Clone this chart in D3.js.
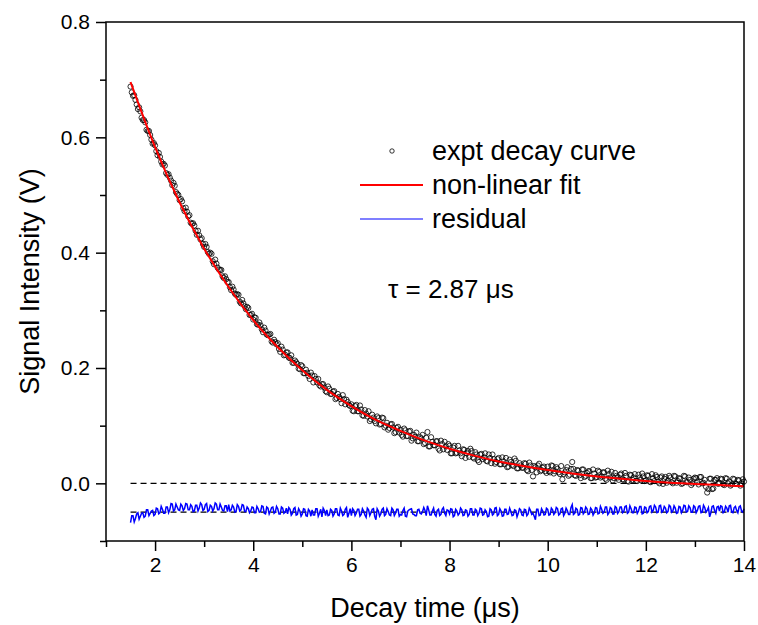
<!DOCTYPE html>
<html>
<head>
<meta charset="utf-8">
<script src="https://cdn.jsdelivr.net/npm/d3@7"></script>
<style>
  body { margin: 0; background: #fff; }
  text { font-family: "Liberation Sans", Arial, sans-serif; fill: #000; }
</style>
</head>
<body>
<div id="chart"></div>
<script>
// sampled decay, 0.05 us apart starting at 1.5 us
var decayStart = 1.5, decayStep = 0.05;
var decaySignal = [
  0.688, 0.672, 0.665, 0.649, 0.645, 0.630, 0.626, 0.611, 0.604, 0.589,
  0.586, 0.569, 0.566, 0.553, 0.551, 0.535, 0.530, 0.517, 0.516, 0.502,
  0.491, 0.489, 0.472, 0.471, 0.465, 0.450, 0.447, 0.431, 0.430, 0.425,
  0.410, 0.410, 0.398, 0.398, 0.380, 0.381, 0.371, 0.370, 0.356, 0.354,
  0.349, 0.335, 0.336, 0.327, 0.327, 0.312, 0.312, 0.302, 0.304, 0.292,
  0.284, 0.287, 0.275, 0.274, 0.262, 0.265, 0.257, 0.259, 0.244, 0.245,
  0.243, 0.228, 0.232, 0.223, 0.227, 0.217, 0.209, 0.213, 0.207, 0.198,
  0.203, 0.191, 0.192, 0.181, 0.187, 0.186, 0.175, 0.170, 0.172, 0.166,
  0.158, 0.164, 0.155, 0.160, 0.148, 0.150, 0.139, 0.146, 0.145, 0.136,
  0.137, 0.125, 0.136, 0.125, 0.128, 0.117, 0.121, 0.125, 0.111, 0.114,
  0.104, 0.113, 0.103, 0.113, 0.100, 0.093, 0.102, 0.097, 0.089, 0.098,
  0.093, 0.081, 0.092, 0.082, 0.091, 0.078, 0.081, 0.073, 0.080, 0.084,
  0.070, 0.089, 0.064, 0.072, 0.066, 0.073, 0.057, 0.068, 0.072, 0.058,
  0.065, 0.052, 0.065, 0.053, 0.057, 0.047, 0.058, 0.052, 0.046, 0.056,
  0.043, 0.050, 0.037, 0.051, 0.045, 0.039, 0.050, 0.035, 0.042, 0.037,
  0.044, 0.033, 0.038, 0.044, 0.029, 0.037, 0.030, 0.039, 0.026, 0.031,
  0.027, 0.034, 0.021, 0.031, 0.012, 0.028, 0.031, 0.021, 0.027, 0.021,
  0.029, 0.019, 0.030, 0.021, 0.025, 0.016, 0.007, 0.019, 0.028, 0.015,
  0.037, 0.014, 0.023, 0.014, 0.024, 0.011, 0.018, 0.021, 0.009, 0.017,
  0.011, 0.020, 0.012, 0.019, 0.006, 0.016, 0.020, 0.009, 0.013, 0.006,
  0.017, 0.006, 0.013, 0.003, 0.014, 0.010, 0.004, 0.015, 0.006, 0.012,
  0.005, 0.013, 0.002, 0.009, 0.014, 0.003, 0.010, -0.001, 0.011, 0.005,
  0.010, 0.000, 0.012, 0.004, 0.008, 0.000, 0.012, 0.002, 0.006, 0.000,
  0.010, 0.002, 0.011, 0.000, 0.006, -0.016, 0.008, -0.010, 0.006, 0.009,
  0.001, 0.007, -0.003, 0.008, 0.003, -0.002, 0.007, -0.001, 0.005, 0.000,
  0.003
];
// samples in between, half a step later (1.525 ... 13.975 us)
var midStart = 1.525;
var decayMid = [
  0.678, 0.673, 0.657, 0.652, 0.634, 0.630, 0.613, 0.611, 0.596, 0.590,
  0.576, 0.573, 0.558, 0.554, 0.538, 0.536, 0.525, 0.521, 0.505, 0.500,
  0.493, 0.477, 0.478, 0.463, 0.452, 0.451, 0.438, 0.438, 0.423, 0.415,
  0.415, 0.401, 0.400, 0.385, 0.388, 0.374, 0.370, 0.359, 0.359, 0.349,
  0.340, 0.341, 0.329, 0.328, 0.315, 0.318, 0.307, 0.306, 0.292, 0.294,
  0.288, 0.276, 0.279, 0.267, 0.270, 0.258, 0.258, 0.246, 0.249, 0.241,
  0.233, 0.237, 0.222, 0.227, 0.218, 0.222, 0.209, 0.210, 0.199, 0.205,
  0.191, 0.197, 0.186, 0.192, 0.175, 0.181, 0.181, 0.168, 0.172, 0.160,
  0.168, 0.155, 0.159, 0.146, 0.155, 0.146, 0.153, 0.137, 0.141, 0.134,
  0.126, 0.134, 0.125, 0.135, 0.118, 0.127, 0.116, 0.108, 0.119, 0.108,
  0.116, 0.102, 0.114, 0.097, 0.105, 0.096, 0.103, 0.087, 0.096, 0.088,
  0.084, 0.095, 0.082, 0.090, 0.074, 0.084, 0.088, 0.073, 0.078, 0.068,
  0.079, 0.064, 0.080, 0.066, 0.073, 0.060, 0.074, 0.059, 0.064, 0.068,
  0.052, 0.062, 0.052, 0.065, 0.052, 0.059, 0.044, 0.056, 0.060, 0.045,
  0.054, 0.040, 0.050, 0.042, 0.052, 0.038, 0.044, 0.050, 0.034, 0.042,
  0.033, 0.045, 0.033, 0.028, 0.041, 0.032, 0.043, 0.026, 0.035, 0.027,
  0.035, 0.023, 0.036, 0.023, 0.030, 0.019, 0.034, 0.023, 0.029, 0.018,
  0.021, 0.031, 0.017, 0.028, 0.019, 0.030, 0.016, 0.023, 0.013, 0.025,
  0.025, 0.013, 0.022, 0.009, 0.024, 0.013, 0.021, 0.009, 0.024, 0.010,
  0.022, 0.010, 0.019, 0.008, 0.022, 0.010, 0.005, 0.018, 0.010, 0.015,
  0.007, 0.018, 0.004, 0.015, 0.006, 0.016, 0.004, 0.010, 0.017, 0.004,
  0.014, 0.003, 0.016, 0.004, 0.011, 0.000, 0.012, 0.008, 0.001, 0.013,
  0.002, 0.013, 0.001, 0.009, -0.001, 0.013, 0.002, 0.010, -0.003, 0.008,
  0.009, -0.002, 0.011, 0.001, -0.006, -0.010, 0.008, -0.009, 0.006, -0.001,
  0.008, -0.002, 0.009, 0.000, -0.004, 0.008, -0.001, 0.006, -0.004, 0.007
];
// residual (shifted down to -0.05), same two time grids
var residual = [
  -0.068, -0.056, -0.061, -0.051, -0.057, -0.051, -0.057, -0.046, -0.052, -0.047,
  -0.054, -0.044, -0.051, -0.045, -0.052, -0.041, -0.046, -0.036, -0.046, -0.041,
  -0.047, -0.039, -0.044, -0.036, -0.046, -0.040, -0.048, -0.038, -0.043, -0.037,
  -0.045, -0.035, -0.047, -0.040, -0.044, -0.036, -0.046, -0.041, -0.048, -0.039,
  -0.037, -0.046, -0.041, -0.049, -0.040, -0.046, -0.038, -0.049, -0.044, -0.048,
  -0.042, -0.051, -0.044, -0.049, -0.040, -0.053, -0.043, -0.048, -0.041, -0.050,
  -0.044, -0.053, -0.043, -0.050, -0.053, -0.045, -0.052, -0.042, -0.054, -0.048,
  -0.053, -0.045, -0.057, -0.048, -0.046, -0.055, -0.044, -0.052, -0.058, -0.047,
  -0.046, -0.055, -0.047, -0.053, -0.044, -0.056, -0.048, -0.054, -0.042, -0.052,
  -0.056, -0.047, -0.052, -0.045, -0.054, -0.048, -0.059, -0.046, -0.051, -0.044,
  -0.063, -0.048, -0.053, -0.043, -0.054, -0.049, -0.056, -0.046, -0.052, -0.045,
  -0.054, -0.047, -0.057, -0.048, -0.045, -0.053, -0.056, -0.046, -0.052, -0.049,
  -0.047, -0.039, -0.055, -0.048, -0.054, -0.047, -0.056, -0.045, -0.052, -0.046,
  -0.053, -0.045, -0.056, -0.048, -0.052, -0.046, -0.055, -0.047, -0.054, -0.044,
  -0.055, -0.047, -0.052, -0.044, -0.054, -0.049, -0.057, -0.046, -0.053, -0.042,
  -0.054, -0.048, -0.056, -0.045, -0.053, -0.049, -0.055, -0.047, -0.052, -0.046,
  -0.056, -0.046, -0.053, -0.047, -0.052, -0.063, -0.045, -0.055, -0.048, -0.054,
  -0.045, -0.054, -0.046, -0.051, -0.044, -0.053, -0.043, -0.052, -0.047, -0.054,
  -0.037, -0.052, -0.045, -0.054, -0.043, -0.050, -0.044, -0.053, -0.046, -0.051,
  -0.043, -0.052, -0.045, -0.050, -0.041, -0.051, -0.044, -0.053, -0.042, -0.049,
  -0.041, -0.049, -0.039, -0.050, -0.044, -0.051, -0.042, -0.048, -0.040, -0.052,
  -0.042, -0.049, -0.039, -0.047, -0.041, -0.050, -0.038, -0.048, -0.043, -0.049,
  -0.040, -0.048, -0.043, -0.051, -0.041, -0.047, -0.039, -0.049, -0.042, -0.050,
  -0.041, -0.047, -0.039, -0.050, -0.042, -0.047, -0.058, -0.040, -0.047, -0.041,
  -0.048, -0.040, -0.049, -0.043, -0.039, -0.050, -0.042, -0.047, -0.041, -0.048,
  -0.044
];
var residualMid = [
  -0.056, -0.067, -0.053, -0.062, -0.052, -0.059, -0.046, -0.056, -0.048, -0.056,
  -0.043, -0.053, -0.040, -0.052, -0.041, -0.051, -0.035, -0.048, -0.036, -0.046,
  -0.036, -0.047, -0.035, -0.046, -0.037, -0.049, -0.038, -0.048, -0.034, -0.047,
  -0.037, -0.049, -0.038, -0.048, -0.034, -0.046, -0.036, -0.047, -0.039, -0.049,
  -0.048, -0.038, -0.050, -0.037, -0.048, -0.037, -0.049, -0.041, -0.051, -0.041,
  -0.051, -0.040, -0.050, -0.039, -0.052, -0.041, -0.053, -0.042, -0.052, -0.040,
  -0.053, -0.041, -0.052, -0.043, -0.042, -0.055, -0.044, -0.055, -0.044, -0.057,
  -0.044, -0.056, -0.045, -0.057, -0.055, -0.044, -0.057, -0.045, -0.043, -0.056,
  -0.056, -0.045, -0.057, -0.044, -0.055, -0.043, -0.056, -0.045, -0.059, -0.044,
  -0.044, -0.056, -0.045, -0.057, -0.044, -0.055, -0.043, -0.056, -0.045, -0.057,
  -0.044, -0.057, -0.045, -0.056, -0.044, -0.055, -0.043, -0.056, -0.045, -0.057,
  -0.055, -0.043, -0.058, -0.046, -0.044, -0.054, -0.056, -0.045, -0.053, -0.042,
  -0.056, -0.046, -0.055, -0.043, -0.057, -0.045, -0.054, -0.042, -0.056, -0.047,
  -0.044, -0.058, -0.045, -0.055, -0.043, -0.056, -0.046, -0.057, -0.044, -0.055,
  -0.045, -0.056, -0.043, -0.055, -0.046, -0.058, -0.044, -0.055, -0.043, -0.056,
  -0.044, -0.057, -0.045, -0.054, -0.043, -0.056, -0.046, -0.058, -0.044, -0.055,
  -0.045, -0.056, -0.043, -0.054, -0.057, -0.045, -0.056, -0.044, -0.055, -0.043,
  -0.055, -0.043, -0.054, -0.042, -0.055, -0.044, -0.056, -0.043, -0.054, -0.042,
  -0.054, -0.043, -0.055, -0.042, -0.053, -0.041, -0.054, -0.043, -0.055, -0.042,
  -0.053, -0.040, -0.052, -0.041, -0.054, -0.042, -0.053, -0.040, -0.052, -0.041,
  -0.051, -0.040, -0.052, -0.039, -0.051, -0.041, -0.052, -0.040, -0.053, -0.041,
  -0.051, -0.040, -0.050, -0.038, -0.051, -0.039, -0.050, -0.040, -0.051, -0.038,
  -0.050, -0.039, -0.052, -0.040, -0.051, -0.038, -0.050, -0.039, -0.050, -0.039,
  -0.051, -0.040, -0.051, -0.038, -0.050, -0.042, -0.051, -0.039, -0.052, -0.040,
  -0.039, -0.051, -0.040, -0.050, -0.038, -0.051, -0.040, -0.051, -0.039, -0.050
];
// fitted curve, read every 0.5 us
var fitTimes = [1.5, 2, 2.5, 3, 3.5, 4, 4.5, 5, 5.5, 6, 6.5, 7, 7.5, 8, 8.5, 9, 9.5, 10, 10.5, 11, 11.5, 12, 12.5, 13, 13.5, 14];
var fitValues = [0.696, 0.583, 0.487, 0.407, 0.340, 0.283, 0.236, 0.196, 0.162, 0.134, 0.110, 0.091, 0.074, 0.060, 0.048, 0.038, 0.030, 0.023, 0.017, 0.012, 0.008, 0.004, 0.001, -0.001, -0.003, -0.005];
var zeroLevel = 0, residualLevel = -0.05;
var xTicks = [2, 4, 6, 8, 10, 12, 14];
var yTicks = [0.0, 0.2, 0.4, 0.6, 0.8];
var legendItems = ["expt decay curve", "non-linear fit", "residual"];
var tauLabel = "\u03c4 = 2.87 \u03bcs";

var width = 758, height = 625;
var margin = {top: 22, right: 14, bottom: 84, left: 106};
var plotW = width - margin.left - margin.right,
    plotH = height - margin.top - margin.bottom;

var svg = d3.select("#chart").append("svg")
    .attr("width", width)
    .attr("height", height);

var g = svg.append("g")
    .attr("transform", "translate(" + margin.left + "," + margin.top + ")");

var x = d3.scaleLinear().domain([1, 14]).range([0, plotW]);
var y = d3.scaleLinear().domain([-0.1, 0.8]).range([plotH, 0]);

function onGrid(arr, t0) {
  return arr.map(function(v, i) { return [t0 + i * decayStep, v]; });
}
var signalPts = onGrid(decaySignal, decayStart).concat(onGrid(decayMid, midStart));
var residualPts = onGrid(residual, decayStart).concat(onGrid(residualMid, midStart))
    .sort(function(a, b) { return a[0] - b[0]; });
var fitPts = fitValues.map(function(v, i) { return [fitTimes[i], v]; });
var tEnd = decayStart + (decaySignal.length - 1) * decayStep;

// dashed reference lines
g.selectAll(".ref")
    .data([zeroLevel, residualLevel])
  .enter().append("line")
    .attr("class", "ref")
    .attr("x1", x(decayStart)).attr("x2", x(tEnd))
    .attr("y1", function(d) { return y(d); })
    .attr("y2", function(d) { return y(d); })
    .style("stroke", "#000")
    .style("stroke-width", 1.2)
    .style("stroke-dasharray", "6,4");

var line = d3.line()
    .x(function(d) { return x(d[0]); })
    .y(function(d) { return y(d[1]); });

g.append("path")
    .datum(residualPts)
    .attr("d", line)
    .style("fill", "none")
    .style("stroke", "#0000ff")
    .style("stroke-width", 1.5);

g.selectAll(".pt")
    .data(signalPts)
  .enter().append("circle")
    .attr("class", "pt")
    .attr("cx", function(d) { return x(d[0]); })
    .attr("cy", function(d) { return y(d[1]); })
    .attr("r", 2.6)
    .style("fill", "none")
    .style("stroke", "#000")
    .style("stroke-width", 0.8);

g.append("path")
    .datum(fitPts)
    .attr("d", line.curve(d3.curveMonotoneX))
    .style("fill", "none")
    .style("stroke", "#ff0000")
    .style("stroke-width", 2);

// axes
var xMinor = d3.range(1, 15, 1).filter(function(d) { return xTicks.indexOf(d) < 0; });
var yMinor = [-0.1, 0.1, 0.3, 0.5, 0.7];

g.append("g")
    .attr("transform", "translate(0," + plotH + ")")
    .call(d3.axisBottom(x).tickValues(xMinor).tickSize(6).tickFormat(""));
var xAxis = g.append("g")
    .attr("transform", "translate(0," + plotH + ")")
    .call(d3.axisBottom(x).tickValues(xTicks).tickSize(10).tickPadding(6).tickFormat(d3.format("d")));
xAxis.selectAll("text").style("font-size", "21px");

g.append("g")
    .call(d3.axisLeft(y).tickValues(yMinor).tickSize(6).tickFormat(""));
var yAxis = g.append("g")
    .call(d3.axisLeft(y).tickValues(yTicks).tickSize(10).tickPadding(6).tickFormat(d3.format(".1f")));
yAxis.selectAll("text").style("font-size", "21px");

g.selectAll(".tick line").style("stroke", "#000").style("stroke-width", 1.5);
g.selectAll(".domain").remove();

// frame
g.append("rect")
    .attr("width", plotW).attr("height", plotH)
    .style("fill", "none")
    .style("stroke", "#000")
    .style("stroke-width", 1.5);

// axis titles
svg.append("text")
    .attr("x", margin.left + plotW / 2)
    .attr("y", 617)
    .attr("text-anchor", "middle")
    .style("font-size", "27px")
    .text("Decay time (\u03bcs)");

svg.append("text")
    .attr("transform", "translate(39," + (margin.top + plotH / 2) + ") rotate(-90)")
    .attr("text-anchor", "middle")
    .style("font-size", "27px")
    .text("Signal Intensity (V)");

// legend
var legend = svg.append("g").attr("transform", "translate(360,0)");
var rowY = [151, 185, 219];
legend.append("circle")
    .attr("cx", 32).attr("cy", rowY[0]).attr("r", 2.2)
    .style("fill", "none").style("stroke", "#000").style("stroke-width", 0.8);
legend.append("line")
    .attr("x1", 0).attr("x2", 63).attr("y1", rowY[1]).attr("y2", rowY[1])
    .style("stroke", "#ff0000").style("stroke-width", 2);
legend.append("line")
    .attr("x1", 0).attr("x2", 63).attr("y1", rowY[2]).attr("y2", rowY[2])
    .style("stroke", "#0000ff").style("stroke-width", 1.2);
legend.selectAll(".lbl")
    .data(legendItems)
  .enter().append("text")
    .attr("class", "lbl")
    .attr("x", 72)
    .attr("y", function(d, i) { return rowY[i]; })
    .attr("dy", "0.35em")
    .style("font-size", "27px")
    .text(function(d) { return d; });

svg.append("text")
    .attr("x", 388)
    .attr("y", 298)
    .style("font-size", "26px")
    .text(tauLabel);
</script>
</body>
</html>
